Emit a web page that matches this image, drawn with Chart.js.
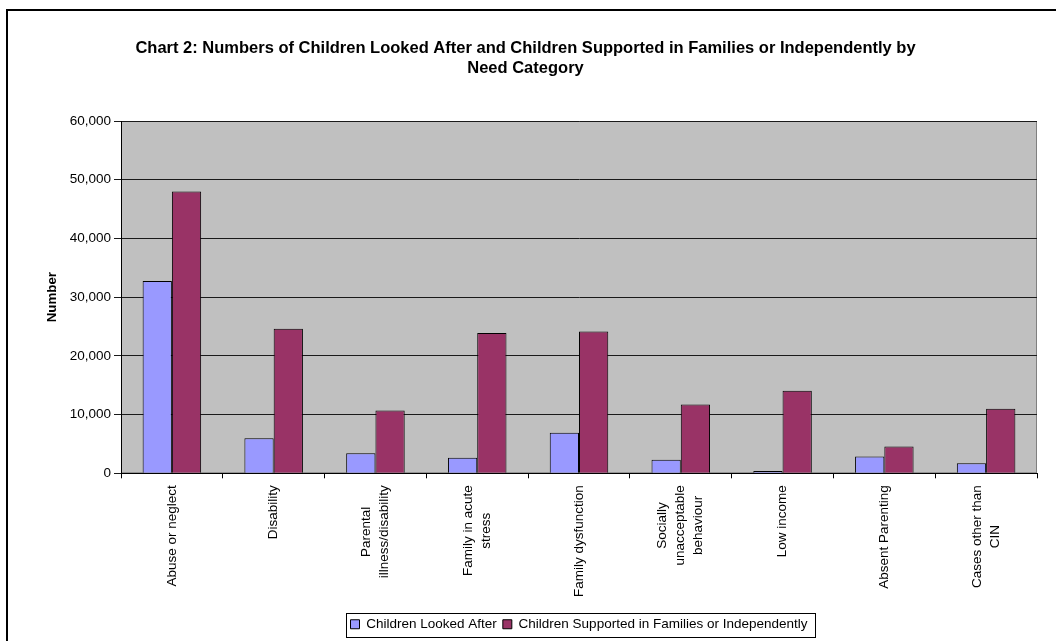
<!DOCTYPE html>
<html lang="en">
<head>
<meta charset="UTF-8">
<title>Chart 2: Children Looked After and Children Supported by Need Category</title>
<script src="https://cdn.jsdelivr.net/npm/chart.js"></script>
<style>
  html, body { margin: 0; padding: 0; background: #fff; }
  #grafico { display: block; }
</style>
</head>
<body>
<canvas id="grafico" width="1056" height="641"></canvas>
<script>
  // categorias (eixo x), linhas separadas como no original
  const categorias = [
    'Abuse or neglect',
    'Disability',
    ['Parental', 'illness/disability'],
    ['Family in acute', 'stress'],
    'Family dysfunction',
    ['Socially', 'unacceptable', 'behaviour'],
    'Low income',
    'Absent Parenting',
    ['Cases other than', 'CIN']
  ];
  const lookedAfter = [32750, 5950, 3400, 2650, 6900, 2300, 400, 2850, 1700];
  const supported = [48000, 24600, 10700, 23900, 24150, 11700, 14050, 4580, 11000];
  const yTicks = [0, 10000, 20000, 30000, 40000, 50000, 60000];

  const fonte = '"Liberation Sans", Arial, sans-serif';
  const tamFonte = 13.5;

  // moldura, fundo cinza da área do gráfico
  const fundo = {
    id: 'fundo',
    beforeDraw(chart) {
      const { ctx, chartArea: a } = chart;
      ctx.save();
      ctx.fillStyle = '#fff';
      ctx.fillRect(0, 0, chart.width, chart.height);
      ctx.strokeStyle = '#000';
      ctx.lineWidth = 2;
      ctx.beginPath();
      ctx.moveTo(7, chart.height + 5);
      ctx.lineTo(7, 10);
      ctx.lineTo(chart.width + 5, 10);
      ctx.stroke();
      ctx.fillStyle = '#C0C0C0';
      ctx.fillRect(a.left, a.top, a.right - a.left, a.bottom - a.top);
      ctx.strokeStyle = '#808080';
      ctx.lineWidth = 1;
      ctx.strokeRect(a.left + 0.5, a.top + 0.5, a.right - a.left - 1, a.bottom - a.top - 1);
      ctx.restore();
    }
  };

  // rótulos do eixo x girados, linhas centralizadas entre si
  const rotulosX = {
    id: 'rotulosX',
    afterDraw(chart) {
      const { ctx } = chart;
      const xs = chart.scales.x;
      const topo = xs.top + 12;
      const lh = 18;
      ctx.save();
      ctx.font = tamFonte + 'px ' + fonte;
      ctx.fillStyle = '#000';
      ctx.textAlign = 'center';
      ctx.textBaseline = 'middle';
      chart.data.labels.forEach((lab, i) => {
        const linhas = Array.isArray(lab) ? lab : [lab];
        const cx = xs.getPixelForTick(i);
        const w = Math.max(...linhas.map(l => ctx.measureText(l).width));
        linhas.forEach((ln, j) => {
          const x = cx + (j - (linhas.length - 1) / 2) * lh;
          ctx.save();
          ctx.translate(x, topo + w / 2);
          ctx.rotate(-Math.PI / 2);
          ctx.fillText(ln, 0, 0);
          ctx.restore();
        });
      });
      ctx.restore();
    }
  };

  // caixa em volta da legenda
  const caixaLegenda = {
    id: 'caixaLegenda',
    afterDraw(chart) {
      const hb = chart.legend && chart.legend.legendHitBoxes;
      if (!hb || !hb.length) return;
      const { ctx } = chart;
      const esq = hb[0].left - 5;
      const ult = hb[hb.length - 1];
      const dir = ult.left + ult.width + 7;
      const cima = hb[0].top - 5;
      const baixo = hb[0].top + hb[0].height + 5;
      ctx.save();
      ctx.strokeStyle = '#000';
      ctx.lineWidth = 1;
      ctx.strokeRect(Math.round(esq) + 0.5, Math.round(cima) + 0.5, Math.round(dir - esq), Math.round(baixo - cima));
      ctx.restore();
    }
  };

  const ctx = document.getElementById('grafico').getContext('2d');
  const grafico = new Chart(ctx, {
    type: 'bar',
    data: {
      labels: categorias,
      datasets: [{
        label: 'Children Looked After',
        data: lookedAfter,
        backgroundColor: '#9999FF',
        borderColor: '#000',
        borderWidth: 1
      }, {
        label: 'Children Supported in Families or Independently',
        data: supported,
        backgroundColor: '#993366',
        borderColor: '#000',
        borderWidth: 1
      }]
    },
    options: {
      responsive: false,
      animation: false,
      devicePixelRatio: 1,
      datasets: {
        bar: { categoryPercentage: 0.575, barPercentage: 1.0 }
      },
      layout: { padding: { left: 14, right: 19, top: 0, bottom: 0 } },
      scales: {
        x: {
          offset: true,
          grid: { offset: true, drawOnChartArea: false, color: '#000', tickLength: 5 },
          border: { color: '#000', width: 1 },
          ticks: { display: false },
          afterFit(scale) { scale.height = 138.2; }
        },
        y: {
          min: 0,
          max: 60000,
          afterBuildTicks(scale) { scale.ticks = yTicks.map(v => ({ value: v })); },
          grid: { color: '#1a1a1a', tickLength: 7 },
          border: { color: '#000', width: 1 },
          ticks: {
            color: '#000',
            padding: 3,
            font: { family: fonte, size: tamFonte },
            callback: (v) => v.toLocaleString('en-US')
          },
          title: {
            display: true,
            text: 'Number',
            color: '#000',
            font: { family: fonte, size: 13.33, weight: 'bold' },
            padding: { top: 30, bottom: 0 }
          },
          afterFit(scale) { scale.width = 107; }
        }
      },
      plugins: {
        title: {
          display: true,
          text: ['Chart 2: Numbers of Children Looked After and Children Supported in Families or Independently by', 'Need Category'],
          color: '#000',
          font: { family: fonte, size: 16.5, weight: 'bold', lineHeight: '20px' },
          padding: { top: 38, bottom: 43 }
        },
        legend: {
          display: true,
          position: 'bottom',
          fullSize: false,
          labels: {
            color: '#000',
            boxWidth: 9,
            boxHeight: 9,
            padding: 6,
            font: { family: fonte, size: tamFonte }
          }
        },
        tooltip: { enabled: false }
      }
    },
    plugins: [fundo, rotulosX, caixaLegenda]
  });
</script>
</body>
</html>
